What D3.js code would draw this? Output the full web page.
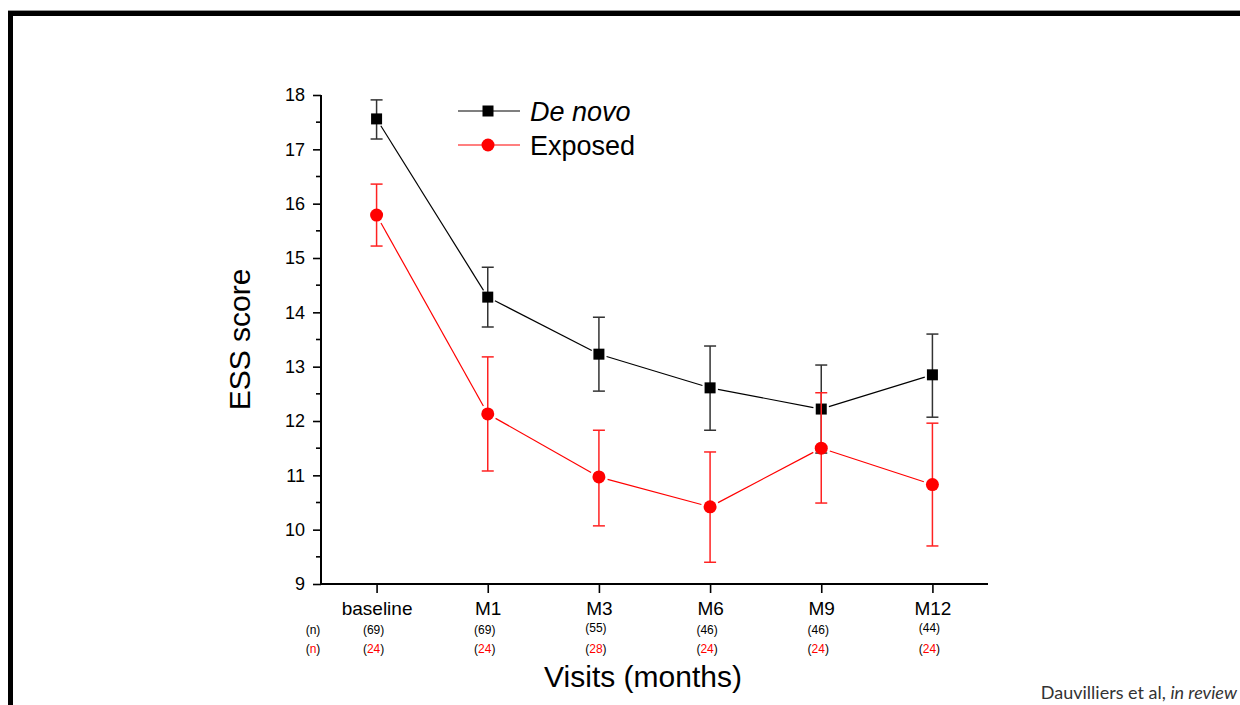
<!DOCTYPE html>
<html>
<head>
<meta charset="utf-8">
<script src="https://cdn.jsdelivr.net/npm/d3@7"></script>
<style>
  html, body { margin: 0; padding: 0; background: #fff; }
  svg { display: block; font-family: "Liberation Sans", Arial, sans-serif; }
</style>
</head>
<body>
<svg id="chart" width="1240" height="705"></svg>
<script>

// visits on the x axis
const visits = ["baseline", "M1", "M3", "M6", "M9", "M12"];

// De novo group: mean and error bar ends
const deNovoMean = [17.56, 14.28, 13.23, 12.61, 12.22, 12.85];
const deNovoLow  = [17.19, 13.73, 12.55, 11.83, 11.41, 12.07];
const deNovoHigh = [17.91, 14.83, 13.91, 13.38, 13.03, 13.60];

// Exposed group
const exposedMean = [15.79, 12.13, 10.97, 10.42, 11.50, 10.83];
const exposedLow  = [15.22, 11.08, 10.07,  9.40, 10.49,  9.70];
const exposedHigh = [16.36, 13.18, 11.83, 11.43, 12.52, 11.96];

// patient counts per visit
const nDeNovo  = ["69", "69", "55", "46", "46", "44"];
const nExposed = ["24", "24", "28", "24", "24", "24"];

const yTicks = [9, 10, 11, 12, 13, 14, 15, 16, 17, 18];

const svg = d3.select("#chart");

// slide frame
svg.append("line").attr("x1", 8).attr("x2", 1240).attr("y1", 10.5).attr("y2", 10.5)
    .attr("stroke", "#999").attr("stroke-width", 1);
svg.append("path").attr("d", "M10.5,705 V13.5 H1240")
    .attr("fill", "none").attr("stroke", "#000").attr("stroke-width", 5);

const plotLeft = 321, plotRight = 988, plotTop = 95, plotBottom = 584;

const x = d3.scalePoint().domain(visits).range([plotLeft, plotRight]).padding(0.5);
const y = d3.scaleLinear().domain([9, 18]).range([plotBottom, plotTop]);

// y axis
const yAxis = svg.append("g").attr("transform", "translate(" + plotLeft + ",0)")
    .call(d3.axisLeft(y).tickValues(yTicks).tickSize(8).tickPadding(8).tickFormat(d3.format("d")));
yAxis.select(".domain").attr("stroke-width", 2).attr("d", "M0," + plotTop + "V" + plotBottom);
yAxis.selectAll(".tick line").attr("stroke-width", 1.6);
yAxis.selectAll(".tick text").attr("font-size", 18).attr("fill", "#000")
    .attr("font-family", "Liberation Sans, Arial, sans-serif");
// minor ticks
yAxis.selectAll(".minor").data(d3.range(9.5, 18, 1)).enter().append("line")
    .attr("x1", -5).attr("x2", 0)
    .attr("y1", d => y(d)).attr("y2", d => y(d))
    .attr("stroke", "#000").attr("stroke-width", 1.6);

// x axis
const xAxis = svg.append("g").attr("transform", "translate(0," + plotBottom + ")")
    .call(d3.axisBottom(x).tickSize(9).tickPadding(9));
xAxis.select(".domain").attr("stroke-width", 2).attr("d", "M" + plotLeft + ",0H" + plotRight);
xAxis.selectAll(".tick line").attr("stroke-width", 1.6);
xAxis.selectAll(".tick text").attr("font-size", 19).attr("fill", "#000")
    .attr("font-family", "Liberation Sans, Arial, sans-serif");

// (n) rows
const nRow1 = 634, nRow2 = 653;
svg.append("text").attr("x", 313).attr("y", nRow1).attr("text-anchor", "middle")
    .attr("font-size", 12).attr("fill", "#000").text("(n)");
const nLabel = svg.append("text").attr("x", 313).attr("y", nRow2).attr("text-anchor", "middle")
    .attr("font-size", 12).attr("fill", "#000");
nLabel.append("tspan").text("(");
nLabel.append("tspan").attr("fill", "#f00").text("n");
nLabel.append("tspan").text(")");

svg.selectAll(".n1").data(visits).enter().append("text")
    .attr("x", d => x(d) - 3).attr("y", (d, i) => nRow1 - (i === 2 || i === 5 ? 2 : 0))
    .attr("text-anchor", "middle").attr("font-size", 12).attr("fill", "#000")
    .text((d, i) => "(" + nDeNovo[i] + ")");

const n2 = svg.selectAll(".n2").data(visits).enter().append("text")
    .attr("x", d => x(d) - 3).attr("y", nRow2)
    .attr("text-anchor", "middle").attr("font-size", 12).attr("fill", "#000");
n2.append("tspan").text("(");
n2.append("tspan").attr("fill", "#f00").text((d, i) => nExposed[i]);
n2.append("tspan").text(")");

// axis titles
svg.append("text").attr("x", 643).attr("y", 687).attr("text-anchor", "middle")
    .attr("font-size", 30).attr("fill", "#000").text("Visits (months)");
svg.append("text").attr("transform", "translate(250," + (plotTop + plotBottom) / 2 + ") rotate(-90)")
    .attr("text-anchor", "middle").attr("font-size", 30).attr("fill", "#000").text("ESS score");

// citation
const cite = svg.append("text").attr("x", 1237).attr("y", 699).attr("text-anchor", "end")
    .attr("font-family", "Lato, 'Open Sans', sans-serif").attr("font-size", 18).attr("fill", "#333");
cite.append("tspan").text("Dauvilliers et al, ");
cite.append("tspan").attr("font-style", "italic").text("in review");

// series
const series = [
  { name: "De novo", mean: deNovoMean, low: deNovoLow, high: deNovoHigh, color: "#000", errColor: "#333", shape: "square", gap: 8 },
  { name: "Exposed", mean: exposedMean, low: exposedLow, high: exposedHigh, color: "#f00", errColor: "#f22", shape: "circle", gap: 9 }
];

function drawMarker(g, shape, cx, cy, color) {
  if (shape === "square") {
    g.append("rect").attr("x", cx - 5.5).attr("y", cy - 5.5).attr("width", 11).attr("height", 11).attr("fill", color);
  } else {
    g.append("circle").attr("cx", cx).attr("cy", cy).attr("r", 6.5).attr("fill", color);
  }
}

series.forEach(function(s) {
  const g = svg.append("g");
  const pts = visits.map((v, i) => [x(v), y(s.mean[i])]);

  // error bars
  visits.forEach(function(v, i) {
    const cx = x(v);
    g.append("line").attr("x1", cx).attr("x2", cx).attr("y1", y(s.low[i])).attr("y2", y(s.high[i]))
      .attr("stroke", s.errColor).attr("stroke-width", 1.5);
    [s.low[i], s.high[i]].forEach(function(e) {
      g.append("line").attr("x1", cx - 6).attr("x2", cx + 6).attr("y1", y(e)).attr("y2", y(e))
        .attr("stroke", s.errColor).attr("stroke-width", 1.5);
    });
  });

  // connecting line segments, stopping short of the markers
  for (let i = 0; i < pts.length - 1; i++) {
    const a = pts[i], b = pts[i + 1];
    const dx = b[0] - a[0], dy = b[1] - a[1], len = Math.sqrt(dx * dx + dy * dy);
    const ux = dx / len, uy = dy / len;
    g.append("line")
      .attr("x1", a[0] + ux * s.gap).attr("y1", a[1] + uy * s.gap)
      .attr("x2", b[0] - ux * s.gap).attr("y2", b[1] - uy * s.gap)
      .attr("stroke", s.color).attr("stroke-width", 1.2);
  }

  pts.forEach(p => drawMarker(g, s.shape, p[0], p[1], s.color));
});

// legend
const legend = svg.append("g");
series.forEach(function(s, i) {
  const ly = 111 + i * 34;
  legend.append("line").attr("x1", 458).attr("x2", 520).attr("y1", ly).attr("y2", ly)
    .attr("stroke", s.color).attr("stroke-width", 1.2);
  drawMarker(legend, s.shape, 488, ly, s.color);
  legend.append("text").attr("x", 530).attr("y", ly + 10).attr("font-size", 27).attr("fill", "#000")
    .attr("font-style", i === 0 ? "italic" : "normal").text(s.name);
});

</script>
</body>
</html>
